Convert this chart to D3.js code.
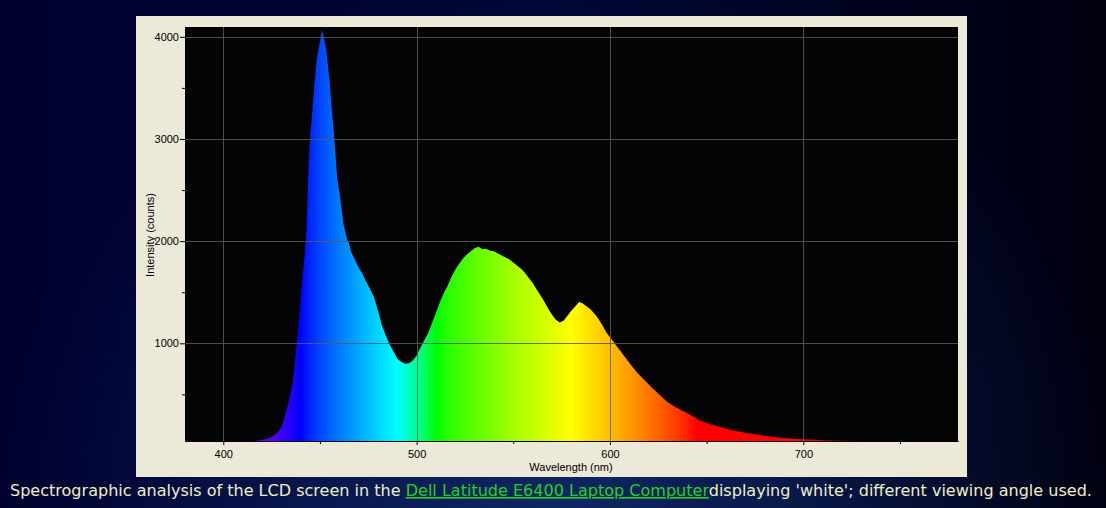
<!DOCTYPE html>
<html>
<head>
<meta charset="utf-8">
<style>
  html, body { margin: 0; padding: 0; background: #000020; overflow: hidden; }
  svg { display: block; }
</style>
</head>
<body>
<svg id="chart" width="1106" height="508"></svg>
<script src="https://cdn.jsdelivr.net/npm/d3@7"></script>
<script>
// spectrum (nm, counts)
var wavelengths = [
  412, 414, 416, 418, 420, 422, 424, 426, 428, 430, 432, 434, 436, 437, 438, 439,
  440, 441, 442, 443, 444, 445, 446, 447, 448, 449, 450, 451, 452, 453, 454, 455,
  456, 457, 458, 459, 460, 461, 462, 463, 464, 465, 466, 468, 470, 472, 474, 476,
  478, 480, 482, 484, 486, 488, 490, 492, 494, 496, 498, 500, 502, 504, 506, 508,
  510, 512, 514, 516, 518, 520, 522, 524, 526, 528, 530, 532, 534, 536, 538, 540,
  542, 544, 546, 548, 550, 552, 554, 556, 558, 560, 562, 564, 566, 568, 570, 572,
  574, 576, 578, 580, 582, 584, 586, 588, 590, 592, 594, 596, 598, 600, 602, 604,
  606, 608, 610, 612, 614, 616, 618, 620, 622, 624, 626, 628, 630, 632, 634, 636,
  638, 640, 642, 644, 646, 648, 650, 654, 658, 662, 666, 670, 675, 680, 685, 690,
  695, 700, 705, 710, 715, 720, 730, 740, 750, 760, 770
];
var counts = [
  0, 20, 38, 48, 54, 62, 73, 95, 125, 175, 290, 440, 620, 800, 1000, 1180,
  1420, 1650, 1850, 2100, 2650, 3050, 3250, 3500, 3720, 3850, 3950, 4070, 3990, 3900, 3740, 3560,
  3300, 3100, 2850, 2600, 2480, 2350, 2180, 2100, 2020, 1980, 1900, 1820, 1740, 1680, 1600, 1530,
  1450, 1320, 1180, 1080, 990, 920, 850, 820, 800, 805, 830, 880, 960, 1030, 1100, 1200,
  1300, 1400, 1490, 1560, 1650, 1720, 1780, 1830, 1870, 1900, 1930, 1945, 1920, 1925, 1905, 1900,
  1880, 1860, 1840, 1820, 1790, 1760, 1730, 1690, 1640, 1590, 1530, 1470, 1410, 1340, 1280, 1230,
  1205, 1220, 1270, 1320, 1360, 1405, 1390, 1360, 1330, 1290, 1240, 1180, 1110, 1060, 1010, 960,
  910, 860, 810, 760, 715, 675, 635, 600, 560, 525, 490, 455, 420, 400, 375, 355,
  335, 315, 295, 275, 250, 235, 220, 195, 175, 155, 140, 125, 110, 95, 84, 74,
  67, 62, 57, 52, 48, 46, 42, 38, 30, 20, 0
];
var xTicks = [400, 500, 600, 700];
var xMinorTicks = [450, 550, 650, 750];
var yTicks = [1000, 2000, 3000, 4000];
var yMinorTicks = [500, 1500, 2500, 3500];

var captionText = "Spectrographic analysis of the LCD screen in the ";
var captionLink = "Dell Latitude E6400 Laptop Computer";
var captionTail = "displaying 'white'; different viewing angle used.";

var spectrum = wavelengths.map(function(w, i) { return { w: w, c: counts[i] }; });

var svg = d3.select("#chart");
var width = 1106, height = 508;

// page background
var defs = svg.append("defs");
var bg = defs.append("linearGradient").attr("id", "bg").attr("x1", 0).attr("x2", 1).attr("y1", 0).attr("y2", 0);
bg.append("stop").attr("offset", 0).attr("stop-color", "#00002e");
bg.append("stop").attr("offset", 0.5).attr("stop-color", "#000533");
bg.append("stop").attr("offset", 1).attr("stop-color", "#00000f");
var glow = defs.append("radialGradient").attr("id", "glow")
  .attr("gradientUnits", "userSpaceOnUse")
  .attr("cx", 560).attr("cy", 520).attr("r", 560);
glow.append("stop").attr("offset", 0).attr("stop-color", "#123070").attr("stop-opacity", 0.8);
glow.append("stop").attr("offset", 1).attr("stop-color", "#123070").attr("stop-opacity", 0);

svg.append("rect").attr("width", width).attr("height", height).attr("fill", "url(#bg)");
svg.append("rect").attr("width", width).attr("height", height).attr("fill", "url(#glow)");

// beige panel
svg.append("rect")
  .attr("x", 136).attr("y", 16).attr("width", 831).attr("height", 461)
  .attr("fill", "#ece9d8");

var plot = { left: 185, right: 958, top: 27, bottom: 441 };

var x = d3.scaleLinear().domain([380.2, 780.0]).range([plot.left, plot.right]);
var y = d3.scaleLinear().domain([44, 4096]).range([plot.bottom, plot.top]);

// black plot area
svg.append("rect")
  .attr("x", plot.left).attr("y", plot.top)
  .attr("width", plot.right - plot.left).attr("height", plot.bottom - plot.top)
  .attr("fill", "#050404");

// wavelength -> colour (Bruton style)
function waveColor(w) {
  var r = 0, g = 0, b = 0;
  if (w < 440) { r = (440 - w) / 60; b = 1; }
  else if (w < 490) { g = (w - 440) / 50; b = 1; }
  else if (w < 510) { g = 1; b = (510 - w) / 20; }
  else if (w < 580) { r = (w - 510) / 70; g = 1; }
  else if (w < 645) { r = 1; g = (645 - w) / 65; }
  else { r = 1; }
  var f = 1;
  if (w < 420) f = 0.3 + 0.7 * (w - 380) / 40;
  else if (w > 700) f = 0.3 + 0.7 * (780 - w) / 80;
  function adj(c) { return c === 0 ? 0 : Math.round(255 * Math.pow(c * f, 0.8)); }
  return d3.rgb(adj(r), adj(g), adj(b)).toString();
}

var spec = defs.append("linearGradient").attr("id", "spec")
  .attr("gradientUnits", "userSpaceOnUse")
  .attr("x1", x(380)).attr("x2", x(780)).attr("y1", 0).attr("y2", 0);
d3.range(380, 781, 5).forEach(function(w) {
  spec.append("stop").attr("offset", (w - 380) / 400).attr("stop-color", waveColor(w));
});

defs.append("clipPath").attr("id", "clip").append("rect")
  .attr("x", plot.left).attr("y", plot.top)
  .attr("width", plot.right - plot.left).attr("height", plot.bottom - plot.top);

var area = d3.area()
  .x(function(d) { return x(d.w); })
  .y0(plot.bottom)
  .y1(function(d) { return y(Math.max(d.c, 44)); });

svg.append("path")
  .datum(spectrum)
  .attr("clip-path", "url(#clip)")
  .attr("fill", "url(#spec)")
  .attr("d", area);

// grid on top of the fill
var grid = svg.append("g").attr("stroke", "#5a5a5a").attr("stroke-width", 1).attr("stroke-opacity", 0.85);
grid.selectAll(".vx").data(xTicks).enter().append("line")
  .attr("x1", function(d) { return Math.round(x(d)) + 0.5; })
  .attr("x2", function(d) { return Math.round(x(d)) + 0.5; })
  .attr("y1", plot.top).attr("y2", plot.bottom);
grid.selectAll(".hy").data(yTicks).enter().append("line")
  .attr("y1", function(d) { return Math.round(y(d)) + 0.5; })
  .attr("y2", function(d) { return Math.round(y(d)) + 0.5; })
  .attr("x1", plot.left).attr("x2", plot.right);

var font = "'Liberation Sans', Arial, sans-serif";

// axes
svg.append("g").attr("transform", "translate(0," + plot.bottom + ")")
  .call(d3.axisBottom(x).tickValues(xTicks).tickSize(4).tickPadding(5).tickSizeOuter(0).tickFormat(d3.format("d")));
svg.append("g").attr("transform", "translate(0," + plot.bottom + ")")
  .call(d3.axisBottom(x).tickValues(xMinorTicks).tickSize(3).tickFormat("").tickSizeOuter(0))
  .select(".domain").remove();
svg.append("g").attr("transform", "translate(" + plot.left + ",0)")
  .call(d3.axisLeft(y).tickValues(yTicks).tickSize(5).tickPadding(1).tickSizeOuter(0).tickFormat(d3.format("d")));
svg.append("g").attr("transform", "translate(" + plot.left + ",0)")
  .call(d3.axisLeft(y).tickValues(yMinorTicks).tickSize(3).tickFormat("").tickSizeOuter(0))
  .select(".domain").remove();

svg.selectAll(".tick text").attr("font-family", font).attr("font-size", 11).attr("fill", "#000");
svg.selectAll(".tick line, .domain").attr("stroke", "#000");

svg.append("text")
  .attr("transform", "translate(154,235) rotate(-90)")
  .attr("text-anchor", "middle")
  .attr("font-family", font).attr("font-size", 11)
  .text("Intensity (counts)");
svg.append("text")
  .attr("x", 571).attr("y", 471)
  .attr("text-anchor", "middle")
  .attr("font-family", font).attr("font-size", 11)
  .text("Wavelength (nm)");

// caption
var cap = svg.append("text")
  .attr("x", 10).attr("y", 496)
  .attr("font-family", "'DejaVu Sans', Verdana, sans-serif")
  .attr("font-size", 16)
  .attr("fill", "#eeeec6");
cap.append("tspan").text(captionText);
cap.append("tspan").attr("fill", "#22d322").attr("text-decoration", "underline").text(captionLink);
cap.append("tspan").text(captionTail);
var len = cap.node().getComputedTextLength();
cap.attr("font-size", 16 * 1083 / len);
</script>
</body>
</html>
